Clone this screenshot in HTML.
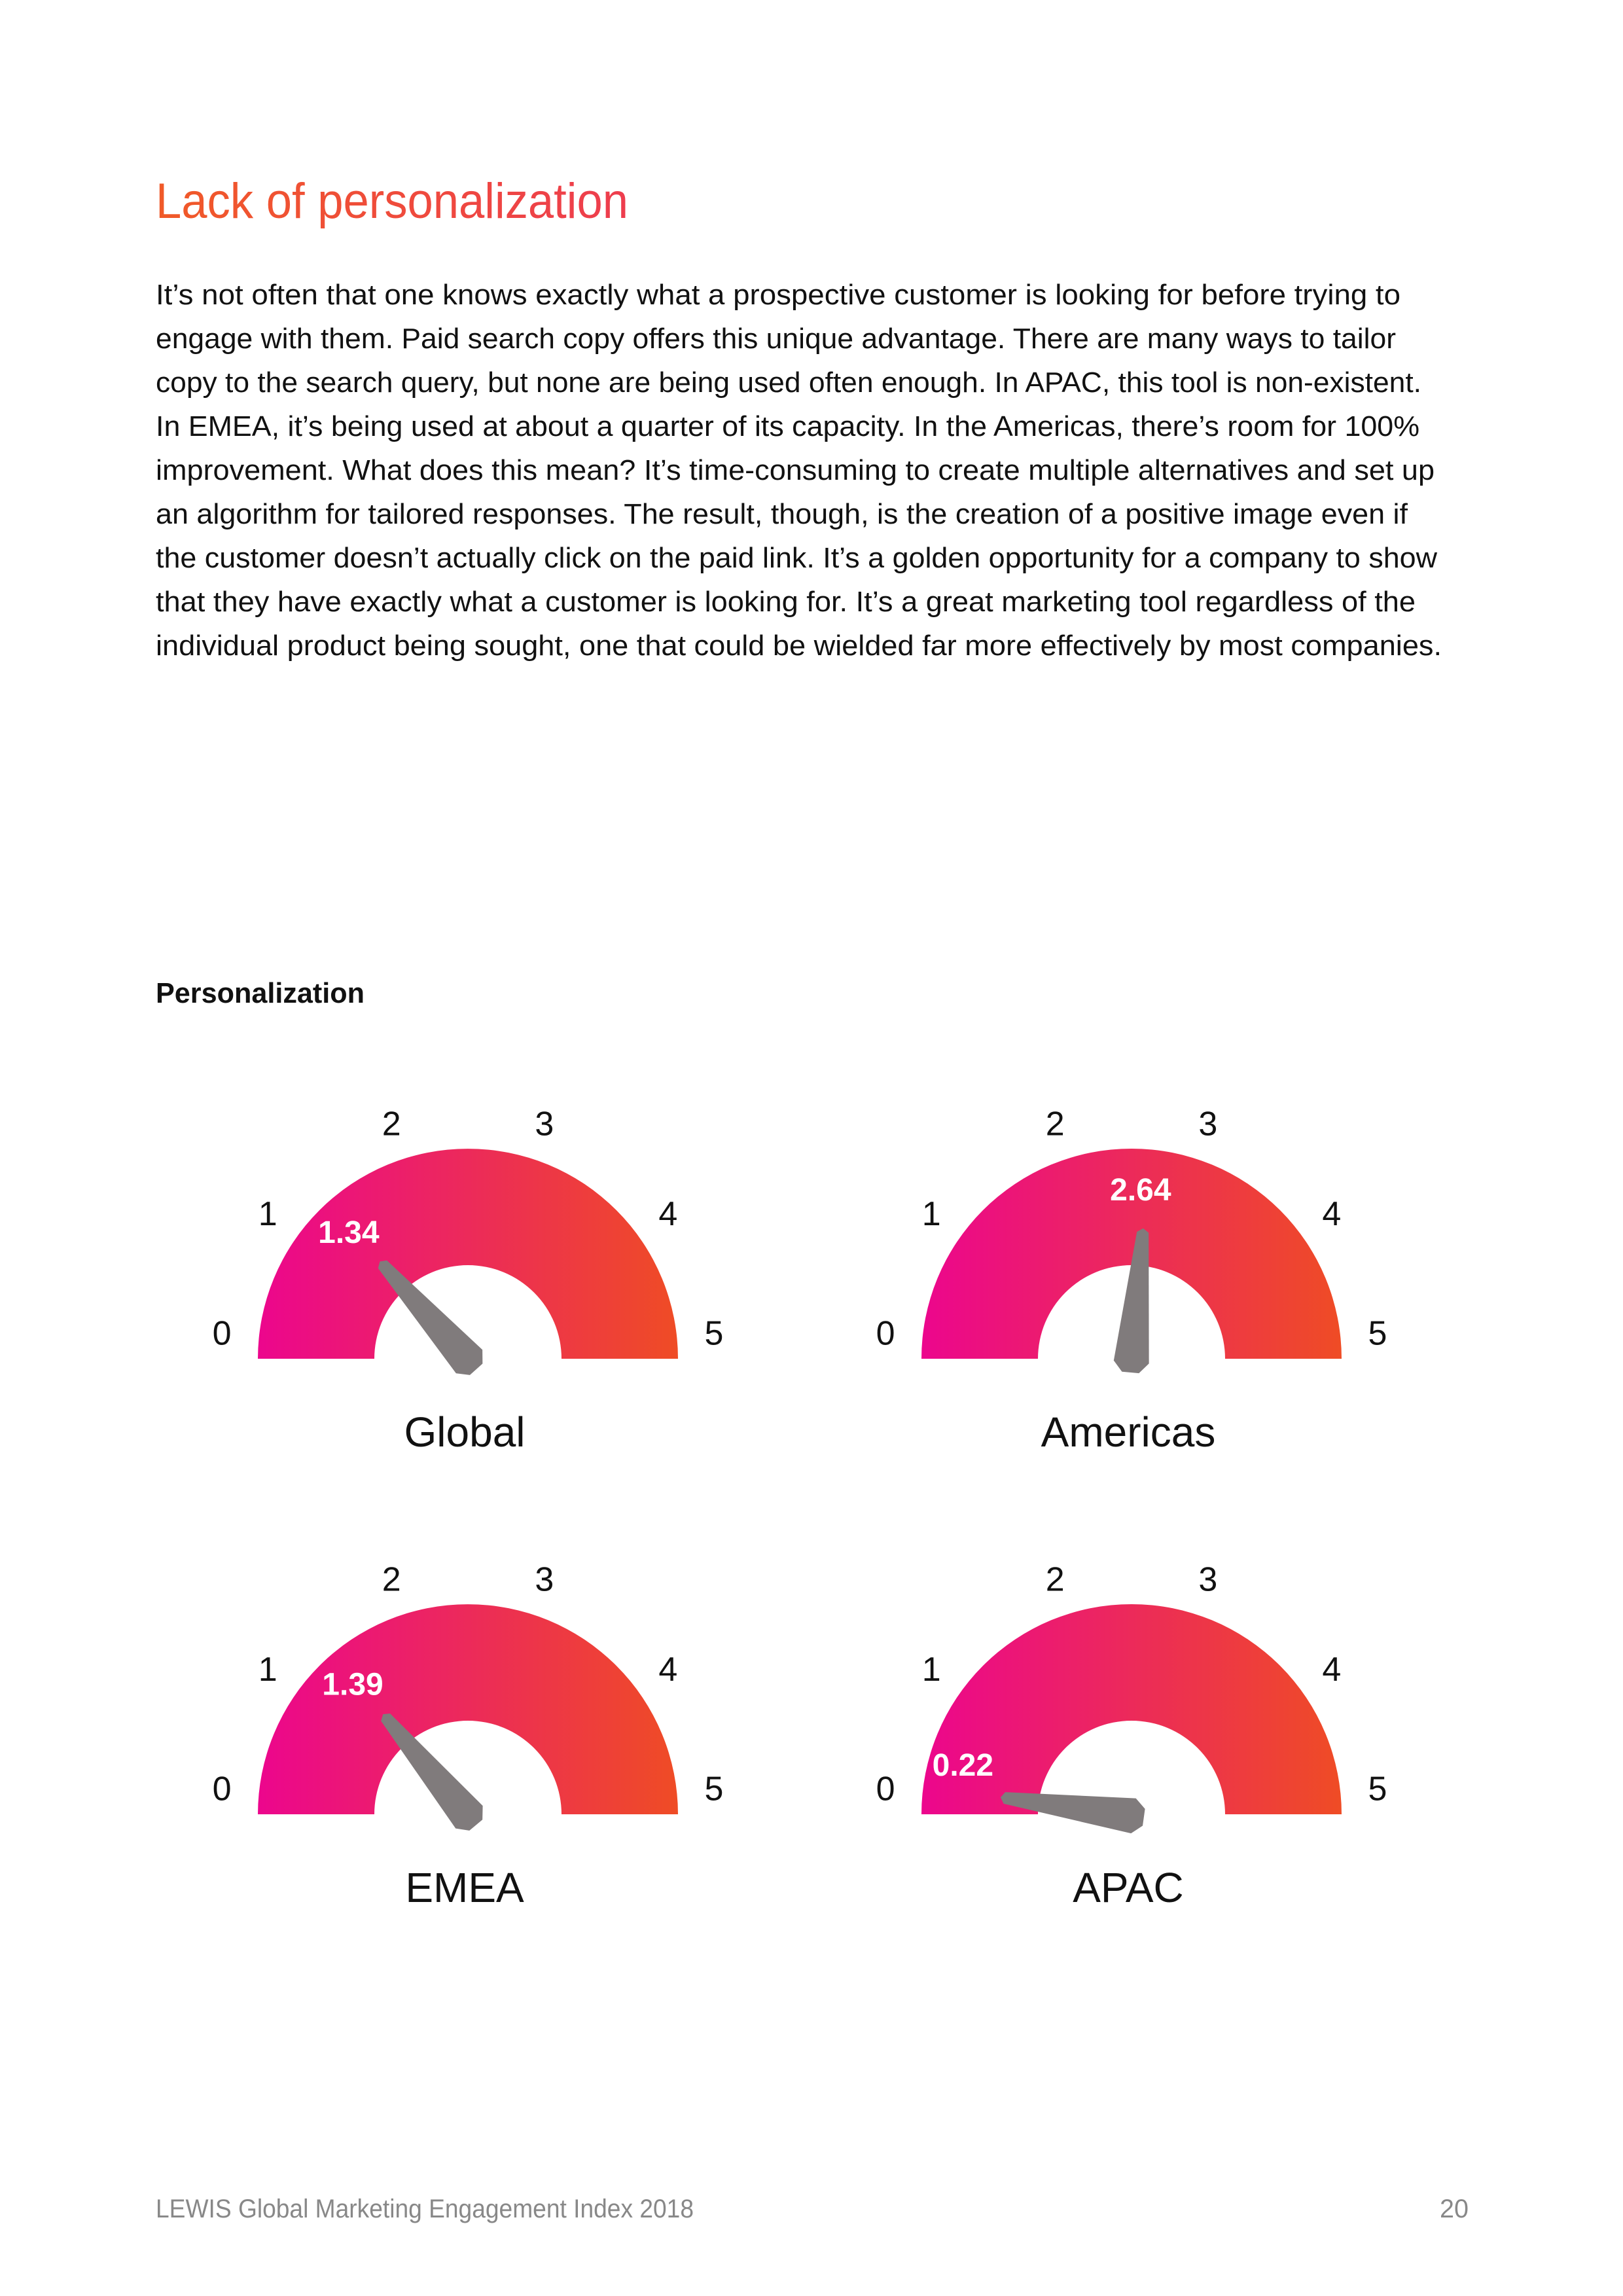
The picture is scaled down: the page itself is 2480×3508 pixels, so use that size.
<!DOCTYPE html>
<html><head><meta charset="utf-8"><style>
html,body{margin:0;padding:0;background:#fff;}
svg{display:block;}
text{font-family:"Liberation Sans",sans-serif;}
</style></head><body>
<svg width="2480" height="3508" viewBox="0 0 2480 3508" xmlns="http://www.w3.org/2000/svg">
<defs>
<linearGradient id="gg" x1="0" y1="0" x2="1" y2="0" gradientUnits="objectBoundingBox">
<stop offset="0" stop-color="#ec068d"/><stop offset="0.5" stop-color="#ec2a5a"/><stop offset="1" stop-color="#ef4c25"/>
</linearGradient>
<linearGradient id="tg" x1="0" y1="0" x2="1" y2="0">
<stop offset="0" stop-color="#f05a28"/><stop offset="1" stop-color="#ee3d4e"/>
</linearGradient>
</defs>
<text x="238" y="333" font-size="76" fill="url(#tg)" textLength="722" lengthAdjust="spacingAndGlyphs">Lack of personalization</text>
<g font-size="44" fill="#111">
<text x="238" y="465" textLength="1902" lengthAdjust="spacingAndGlyphs">It’s not often that one knows exactly what a prospective customer is looking for before trying to</text>
<text x="238" y="532" textLength="1895" lengthAdjust="spacingAndGlyphs">engage with them. Paid search copy offers this unique advantage. There are many ways to tailor</text>
<text x="238" y="599" textLength="1934" lengthAdjust="spacingAndGlyphs">copy to the search query, but none are being used often enough. In APAC, this tool is non-existent.</text>
<text x="238" y="666" textLength="1931" lengthAdjust="spacingAndGlyphs">In EMEA, it’s being used at about a quarter of its capacity. In the Americas, there’s room for 100%</text>
<text x="238" y="733" textLength="1954" lengthAdjust="spacingAndGlyphs">improvement. What does this mean? It’s time-consuming to create multiple alternatives and set up</text>
<text x="238" y="800" textLength="1913" lengthAdjust="spacingAndGlyphs">an algorithm for tailored responses. The result, though, is the creation of a positive image even if</text>
<text x="238" y="867" textLength="1958" lengthAdjust="spacingAndGlyphs">the customer doesn’t actually click on the paid link. It’s a golden opportunity for a company to show</text>
<text x="238" y="934" textLength="1925" lengthAdjust="spacingAndGlyphs">that they have exactly what a customer is looking for. It’s a great marketing tool regardless of the</text>
<text x="238" y="1001" textLength="1965" lengthAdjust="spacingAndGlyphs">individual product being sought, one that could be wielded far more effectively by most companies.</text>
</g>
<text x="238" y="1532" font-size="44" font-weight="bold" fill="#111" textLength="319" lengthAdjust="spacingAndGlyphs">Personalization</text>
<g id="gauges"></g>
<text x="238" y="3388" font-size="40" fill="#888" textLength="822" lengthAdjust="spacingAndGlyphs">LEWIS Global Marketing Engagement Index 2018</text>
<text x="2200" y="3388" font-size="40" fill="#888" textLength="44" lengthAdjust="spacingAndGlyphs">20</text>
</svg>
<script>
const regions = ["Global","Americas","EMEA","APAC"];
const scores = [1.34, 2.64, 1.39, 0.22];
const tickLabels = ["0","1","2","3","4","5"];
const scaleMax = 5;

const NS="http://www.w3.org/2000/svg";
const root=document.getElementById('gauges');
const colX=[715,1729], rowY=[2076,2772];
const R=321, r=143, RL=378, RV=260;
function angleOf(v){return v/scaleMax*Math.PI;}
function labelAngle(v){const a=angleOf(v), m=6*Math.PI/180; return Math.min(Math.max(a,m),Math.PI-m);}
function pt(cx,cy,rad,a){return [cx-rad*Math.cos(a), cy-rad*Math.sin(a)];}
function mk(tag,attrs){const e=document.createElementNS(NS,tag);for(const k in attrs)e.setAttribute(k,attrs[k]);return e;}
regions.forEach((name,i)=>{
  const cx=colX[i%2], cy=rowY[Math.floor(i/2)];
  const g=mk('g',{});
  
  
  root.appendChild(g);
  const arc=mk('path',{d:`M${cx-R},${cy} A${R},${R} 0 0 1 ${cx+R},${cy} L${cx+r},${cy} A${r},${r} 0 0 0 ${cx-r},${cy} Z`,fill:'url(#gg)'});
  
  
  g.appendChild(arc);
  tickLabels.forEach((t,j)=>{
    const [x,y]=pt(cx,cy,RL,labelAngle(j*scaleMax/(tickLabels.length-1)));
    const tx=mk('text',{x:x,y:y+18,'font-size':52,fill:'#111','text-anchor':'middle'});
    tx.textContent=t;
    
    
    g.appendChild(tx);
  });
  const a=angleOf(scores[i]);
  const deg=180+a*180/Math.PI;
  const nd=mk('polygon',{points:'-19,-13 -3,-27 196,-9 202,0 196,9 -3,27 -19,13',fill:'#807b7c',transform:`translate(${cx},${cy+2}) rotate(${deg})`});
  
  
  g.appendChild(nd);
  const la=Math.max(a, 17*Math.PI/180);
  const [vx,vy]=pt(cx,cy,RV,la);
  const vt=mk('text',{x:vx-9,y:vy+17,'font-size':48,'font-weight':'bold',fill:'#fff','text-anchor':'middle'});
  vt.textContent=scores[i].toFixed(2);
  
  
  g.appendChild(vt);
  const nt=mk('text',{x:cx-5,y:cy+134,'font-size':64,fill:'#111','text-anchor':'middle'});
  nt.textContent=name;
  
  
  g.appendChild(nt);
});
</script>
</body></html>
